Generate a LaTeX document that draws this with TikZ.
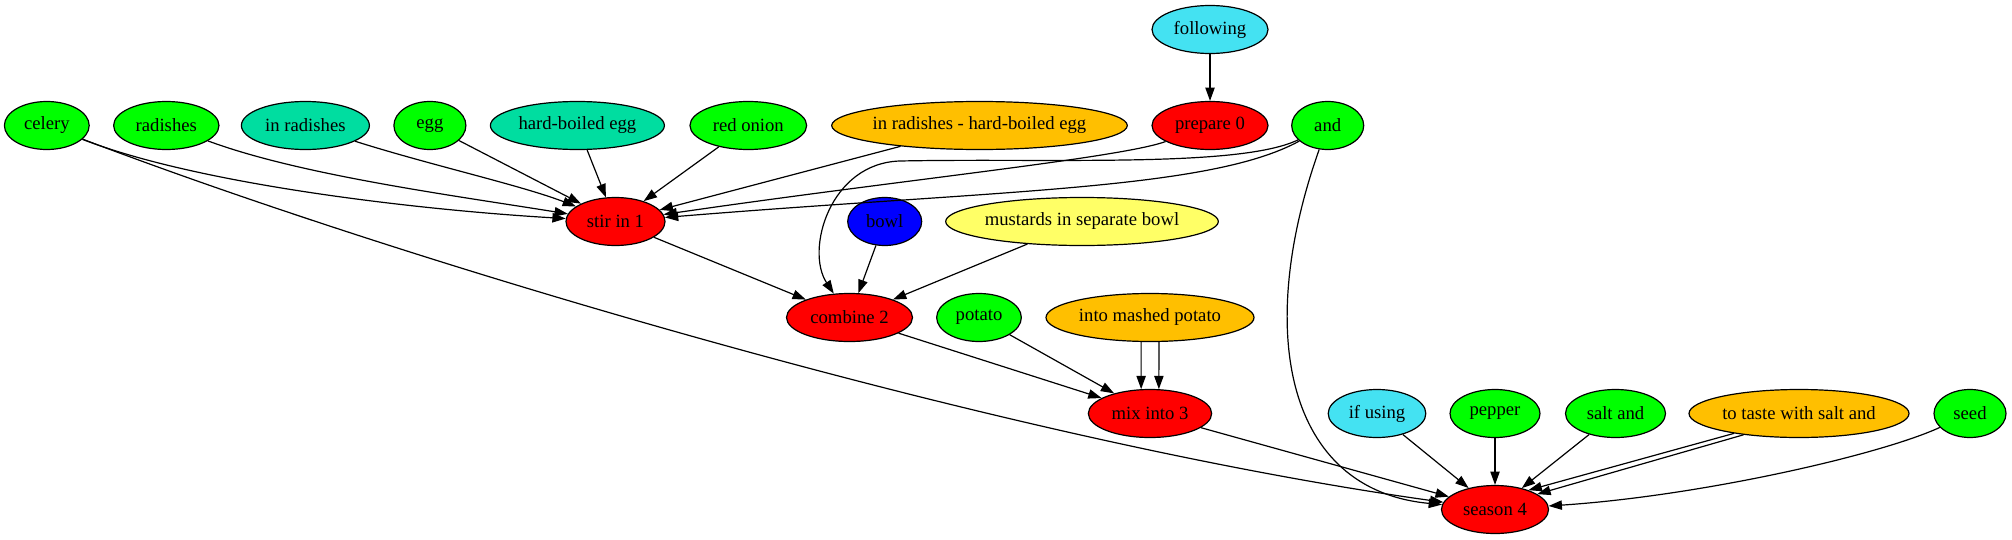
\documentclass[tikz,border=0pt]{standalone}
\usepackage{fontspec}
\setmainfont{Liberation Serif}
\usetikzlibrary{shapes.geometric,arrows.meta}
\definecolor{gvgreen}{HTML}{00FF00}
\definecolor{gvred}{HTML}{FF0000}
\definecolor{gvcyan}{HTML}{44E2F2}
\definecolor{gvteal}{HTML}{00DDA0}
\definecolor{gvorange}{HTML}{FFBF00}
\definecolor{gvyellow}{HTML}{FFFF66}
\definecolor{gvblue}{HTML}{0000FF}
\newcommand{\zl}[1]{\makebox[0pt]{#1}}
\begin{document}
\begin{tikzpicture}[x=0.75pt,y=-0.75pt,
  gnode/.style={ellipse,draw=black,line width=0.9pt,inner sep=0pt,minimum height=36pt,
    font=\fontsize{14}{16}\selectfont},
  edge/.style={-{Triangle[length=10pt,width=7pt]},line width=0.9pt}]
\useasboundingbox (0,0) rectangle (2012,539);
% rank 0
\node[gnode,fill=gvcyan,minimum width=87pt] (following) at (1210,29.5) {\zl{following}};
% rank 1
\node[gnode,fill=gvgreen,minimum width=63.6pt] (celery) at (46.8,125.5) {\zl{celery}};
\node[gnode,fill=gvgreen,minimum width=79pt] (radishes) at (166.3,125.5) {\zl{radishes}};
\node[gnode,fill=gvteal,minimum width=96pt] (inradishes) at (305.4,125.5) {\zl{in radishes}};
\node[gnode,fill=gvgreen,minimum width=54pt] (egg) at (429.9,125.5) {\zl{egg}};
\node[gnode,fill=gvteal,minimum width=130.5pt] (hbegg) at (577.4,125.5) {\zl{hard-boiled egg}};
\node[gnode,fill=gvgreen,minimum width=87.5pt] (redonion) at (748.3,125.5) {\zl{red onion}};
\node[gnode,fill=gvorange,minimum width=221.7pt] (inradhbe) at (979.5,125.5) {\zl{in radishes - hard-boiled egg}};
\node[gnode,fill=gvred,minimum width=87pt] (prepare) at (1210,125.5) {\zl{prepare 0}};
\node[gnode,fill=gvgreen,minimum width=54pt] (and) at (1327.7,125.5) {\zl{and}};
% rank 2
\node[gnode,fill=gvred,minimum width=74.3pt] (stirin) at (615.5,221.5) {\zl{stir in 1}};
\node[gnode,fill=gvblue,minimum width=55.5pt] (bowl) at (884.7,221.5) {\zl{bowl}};
\node[gnode,fill=gvyellow,minimum width=204.5pt] (mustards) at (1082,221.5) {\zl{mustards in separate bowl}};
% rank 3
\node[gnode,fill=gvred,minimum width=94.5pt] (combine) at (849.5,317.5) {\zl{combine 2}};
\node[gnode,fill=gvgreen,minimum width=63.5pt] (potato) at (979,317.5) {\zl{potato}};
\node[gnode,fill=gvorange,minimum width=156pt] (mashed) at (1150,317.5) {\zl{into mashed potato}};
% rank 4
\node[gnode,fill=gvred,minimum width=92.5pt] (mixinto) at (1150,413.5) {\zl{mix into 3}};
\node[gnode,fill=gvcyan,minimum width=73.2pt] (ifusing) at (1377,413.5) {\zl{if using}};
\node[gnode,fill=gvgreen,minimum width=67.5pt] (pepper) at (1495,413.5) {\zl{pepper}};
\node[gnode,fill=gvgreen,minimum width=75pt] (saltand) at (1615.5,413.5) {\zl{salt and}};
\node[gnode,fill=gvorange,minimum width=165pt] (totaste) at (1799,413.5) {\zl{to taste with salt and}};
\node[gnode,fill=gvgreen,minimum width=54pt] (seed) at (1970,413.5) {\zl{seed}};
% rank 5
\node[gnode,fill=gvred,minimum width=80.3pt] (season) at (1495,509.5) {\zl{season 4}};

% edges
\draw[edge] (following) -- (prepare);
\draw[edge] (celery) .. controls (200,185) and (420,210) .. (stirin);
\draw[edge] (celery) .. controls (400,260) and (1000,440) .. (season);
\draw[edge] (radishes) .. controls (300,175) and (450,195) .. (stirin);
\draw[edge] (inradishes) .. controls (430,165) and (520,185) .. (stirin);
\draw[edge] (egg) -- (stirin);
\draw[edge] (hbegg) -- (stirin);
\draw[edge] (redonion) -- (stirin);
\draw[edge] (inradhbe) -- (stirin);
\draw[edge] (prepare) .. controls (1120,158) and (900,180) .. (stirin);
\draw[edge] (and) .. controls (1210,190) and (1000,190) .. (stirin);
\draw[edge] (and) .. controls (1240,168) and (1050,158) .. (900,161)
  .. controls (830,163) and (805,250) .. (combine);
\draw[edge] (and) .. controls (1255,330) and (1285,490) .. (season);
\draw[edge] (stirin) -- (combine);
\draw[edge] (bowl) -- (combine);
\draw[edge] (mustards) -- (combine);
\draw[edge] (combine) -- (mixinto);
\draw[edge] (potato) -- (mixinto);
\draw[edge] (mashed.250) -- (mixinto.110);
\draw[edge] (mashed.290) -- (mixinto.70);
\draw[edge] (mixinto) -- (season);
\draw[edge] (ifusing) -- (season);
\draw[edge] (pepper) -- (season);
\draw[edge] (saltand) -- (season);
\draw[edge] (totaste.197) -- (season.30);
\draw[edge] (totaste.201) -- (season.20);
\draw[edge] (seed) .. controls (1880,455) and (1700,496) .. (season);
\end{tikzpicture}
\end{document}
